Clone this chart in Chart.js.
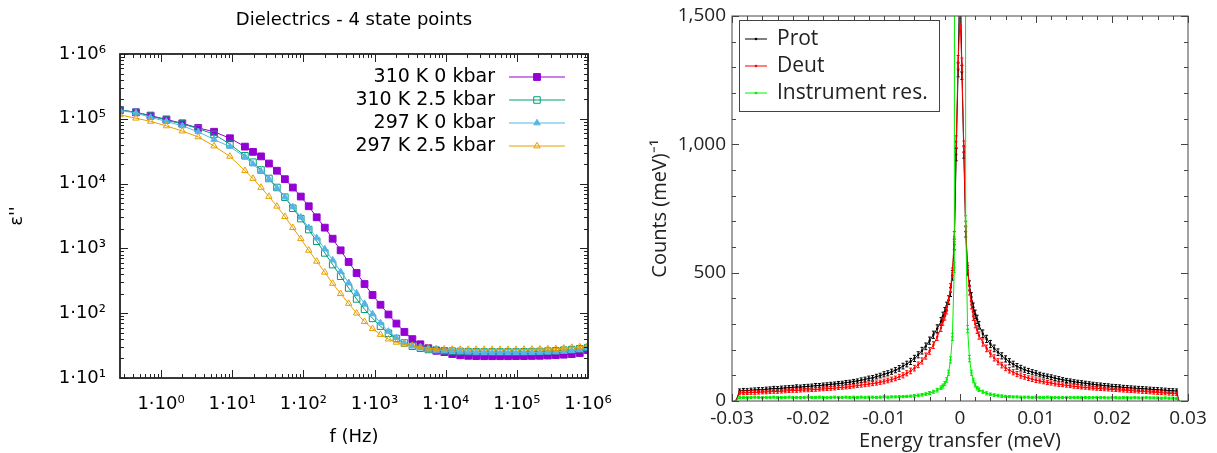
<!DOCTYPE html>
<html>
<head>
<meta charset="utf-8">
<script src="https://cdn.jsdelivr.net/npm/chart.js@4.4.0/dist/chart.umd.min.js"></script>
<style>
  html, body { margin: 0; padding: 0; background: #fff; }
  body { width: 1217px; height: 453px; position: relative; overflow: hidden; }
  .panel { position: absolute; top: 0; }
  #left { left: 0; }
  #right { left: 620px; }
</style>
</head>
<body>
<div class="panel" id="left"><canvas id="dielectric" width="615" height="453"></canvas></div>
<div class="panel" id="right"><canvas id="qens" width="597" height="453"></canvas></div>
<script>
// === Left panel: dielectric loss vs frequency ===
const freq = [0.265, 0.444, 0.713, 1.19, 1.99, 3.33, 5.56, 9.29,
  15.1, 19.6, 25.4, 32.8, 42.5, 55.0, 71.1, 92.0, 119, 154, 200, 258, 334, 433, 560, 724, 938,
  1213, 1570, 2032, 2630, 3404, 4406, 5702, 7379, 9550, 12360, 16000, 20700, 26800, 34700,
  44900, 58100, 75200, 97300, 125900, 162900, 210900, 272900, 353200, 457100, 591600, 765600, 990800];

const eps310_0 = [137000, 126000, 112000, 97700, 85100, 72400, 63100, 50100, 37200, 30900, 26300,
  20400, 15800, 11700, 8700, 6310, 4470, 3020, 2090, 1410, 933, 617, 417, 282, 191, 135, 95.5,
  69.2, 51.3, 39.8, 33.1, 28.8, 26.3, 25.1, 23.4, 22.4, 22.0, 21.8, 21.7, 21.7, 21.7, 21.7, 21.8,
  21.8, 21.9, 22.0, 22.2, 22.5, 22.9, 23.4, 24.3, 26.9];
const eps310_25 = [137000, 126000, 110000, 95500, 83200, 70800, 57500, 40700, 26900, 21400, 16200,
  12000, 8710, 6170, 4170, 2880, 1950, 1290, 851, 562, 372, 245, 166, 115, 83.2, 63.1, 49.0, 40.7,
  34.7, 30.9, 28.8, 27.5, 26.9, 26.3, 26.0, 25.7, 25.5, 25.4, 25.3, 25.3, 25.3, 25.3, 25.3, 25.4,
  25.5, 25.7, 26.0, 26.3, 26.9, 27.5, 28.2, 29.5];
const eps297_0 = [135000, 123000, 105000, 91200, 77600, 63100, 47900, 37200, 25700, 20000, 15500,
  11700, 8510, 6170, 4370, 3020, 2090, 1450, 977, 661, 437, 295, 204, 141, 97.7, 70.8, 52.5, 41.7,
  34.7, 30.9, 28.8, 27.5, 26.6, 26.0, 25.5, 25.2, 25.0, 24.8, 24.7, 24.6, 24.6, 24.6, 24.6, 24.6,
  24.7, 24.8, 25.0, 25.3, 25.8, 26.3, 27.2, 28.8];
const eps297_25 = [115000, 102000, 91200, 77600, 64600, 52500, 38000, 26300, 15800, 12000, 8710,
  6310, 4470, 3090, 2090, 1410, 933, 631, 427, 288, 200, 141, 100, 74.1, 57.5, 46.8, 39.8, 35.5,
  33.1, 31.6, 30.2, 28.8, 28.2, 27.8, 27.6, 27.5, 27.5, 27.5, 27.5, 27.5, 27.5, 27.5, 27.5, 27.6,
  27.7, 27.8, 28.0, 28.3, 28.8, 29.5, 30.2, 31.6];

const leftXTicks = [1, 10, 100, 1000, 10000, 100000, 1000000];
const leftXLabels = ['1·10⁰', '1·10¹', '1·10²', '1·10³', '1·10⁴', '1·10⁵', '1·10⁶'];
const leftYTicks = [10, 100, 1000, 10000, 100000, 1000000];
const leftYLabels = ['1·10¹', '1·10²', '1·10³', '1·10⁴', '1·10⁵', '1·10⁶'];

// === Right panel: quasi-elastic spectra ===
const energy = [-0.0295,
  -0.0290, -0.0285, -0.0280, -0.0275, -0.0270, -0.0265, -0.0260, -0.0255, -0.0250, -0.0245,
  -0.0240, -0.0235, -0.0230, -0.0225, -0.0220, -0.0215, -0.0210, -0.0205, -0.0200, -0.0195,
  -0.0190, -0.0185, -0.0180, -0.0175, -0.0170, -0.0165, -0.0160, -0.0155, -0.0150, -0.0145,
  -0.0140, -0.0135, -0.0130, -0.0125, -0.0120, -0.0115, -0.0110, -0.0105, -0.0100, -0.0095,
  -0.0090, -0.0085, -0.0080, -0.0075, -0.0070, -0.0065, -0.0060, -0.0055, -0.0050, -0.0045,
  -0.0040, -0.0035, -0.0030, -0.0025,
  -0.00225, -0.0020, -0.00175, -0.0015, -0.00125, -0.0010, -0.00075, -0.0005, -0.00025, 0,
  0.00025, 0.0005, 0.00075, 0.0010, 0.00125, 0.0015, 0.00175, 0.0020, 0.00225,
  0.0025, 0.0030, 0.0035, 0.0040, 0.0045, 0.0050, 0.0055, 0.0060, 0.0065, 0.0070,
  0.0075, 0.0080, 0.0085, 0.0090, 0.0095, 0.0100, 0.0105, 0.0110, 0.0115, 0.0120,
  0.0125, 0.0130, 0.0135, 0.0140, 0.0145, 0.0150, 0.0155, 0.0160, 0.0165, 0.0170,
  0.0175, 0.0180, 0.0185, 0.0190, 0.0195, 0.0200, 0.0205, 0.0210, 0.0215, 0.0220,
  0.0225, 0.0230, 0.0235, 0.0240, 0.0245, 0.0250, 0.0255, 0.0260, 0.0265, 0.0270,
  0.0275, 0.0280, 0.0285,
  0.0288];

const prot = [0,
  39, 41, 40, 42, 43, 44, 44, 46, 47, 49,
  48, 50, 51, 52, 53, 55, 54, 56, 57, 58,
  60, 60, 62, 63, 65, 66, 68, 69, 72, 73,
  76, 78, 81, 84, 88, 90, 95, 99, 104, 108,
  114, 120, 127, 136, 144, 154, 166, 180, 196, 213,
  235, 258, 282, 310,
  330, 348, 368, 393, 425, 490, 610, 960, 1290, 1720,
  1280, 970, 660, 510, 450, 405, 365, 338, 318,
  295, 262, 242, 222, 205, 190, 176, 164, 153, 144,
  135, 128, 122, 117, 112, 108, 103, 99, 96, 93,
  89, 86, 83, 80, 78, 75, 73, 71, 69, 67,
  65, 63, 62, 60, 59, 57, 56, 55, 53, 52,
  51, 50, 49, 48, 47, 46, 45, 44, 43, 42,
  41, 40, 39,
  0];
const protErr = [0,
  8, 8, 8, 8, 8, 8, 8, 8, 8, 8,
  8, 8, 8, 8, 8, 8, 8, 8, 8, 8,
  8, 8, 8, 8, 8, 8, 8, 8, 8, 8,
  8, 8, 9, 9, 9, 9, 9, 9, 10, 10,
  10, 10, 11, 11, 11, 12, 12, 12, 13, 13,
  14, 14, 15, 15,
  16, 16, 17, 17, 18, 19, 21, 24, 27, 30,
  27, 24, 21, 19, 18, 17, 17, 16, 16,
  15, 15, 14, 14, 13, 13, 12, 12, 12, 11,
  11, 11, 10, 10, 10, 10, 9, 9, 9, 9,
  9, 9, 8, 8, 8, 8, 8, 8, 8, 8,
  8, 8, 8, 8, 8, 8, 8, 8, 8, 8,
  8, 8, 8, 8, 8, 8, 8, 8, 8, 8,
  8, 8, 8,
  0];

const deut = [0,
  31, 32, 32, 33, 33, 34, 35, 35, 36, 37,
  37, 38, 39, 40, 41, 41, 42, 43, 43, 44,
  45, 46, 47, 48, 49, 50, 52, 53, 54, 56,
  58, 60, 62, 64, 66, 68, 70, 73, 76, 80,
  84, 88, 94, 100, 108, 117, 128, 141, 156, 175,
  195, 218, 250, 285,
  310, 330, 355, 395, 440, 500, 640, 1010, 1320, 1490,
  1310, 990, 680, 520, 430, 375, 330, 300, 278,
  255, 228, 205, 185, 168, 153, 140, 129, 120, 112,
  105, 99, 94, 89, 85, 81, 78, 75, 72, 70,
  67, 65, 63, 61, 59, 57, 56, 54, 53, 51,
  50, 49, 48, 47, 46, 45, 44, 43, 42, 41,
  40, 39, 38, 37, 36, 35, 34, 33, 32, 31,
  30, 29, 28,
  0];
const deutErr = [0,
  7, 7, 7, 7, 7, 7, 7, 7, 7, 7,
  7, 7, 7, 7, 7, 7, 7, 7, 7, 7,
  7, 7, 7, 7, 7, 7, 7, 7, 7, 7,
  7, 7, 8, 8, 8, 8, 8, 8, 9, 9,
  9, 9, 10, 10, 10, 11, 11, 11, 12, 12,
  13, 13, 14, 14,
  15, 15, 16, 16, 17, 18, 20, 23, 26, 28,
  26, 23, 20, 18, 17, 16, 16, 15, 15,
  14, 14, 13, 13, 12, 12, 11, 11, 11, 10,
  10, 10, 9, 9, 9, 9, 8, 8, 8, 8,
  8, 8, 7, 7, 7, 7, 7, 7, 7, 7,
  7, 7, 7, 7, 7, 7, 7, 7, 7, 7,
  7, 7, 7, 7, 7, 7, 7, 7, 7, 7,
  7, 7, 7,
  0];

const instr = [0,
  13, 14, 13, 14, 15, 14, 13, 14, 14, 15,
  14, 13, 14, 15, 14, 14, 13, 14, 15, 14,
  14, 15, 14, 13, 14, 15, 14, 14, 15, 14,
  15, 14, 15, 14, 15, 15, 14, 15, 16, 15,
  16, 16, 17, 17, 18, 19, 20, 22, 24, 27,
  31, 36, 42, 52,
  58, 68, 82, 110, 160, 250, 520, 12000, 20000, 22000,
  20000, 12000, 700, 280, 165, 110, 80, 62, 50,
  44, 36, 30, 26, 23, 21, 19, 18, 17, 16,
  16, 15, 15, 15, 14, 15, 14, 14, 15, 14,
  14, 13, 14, 14, 13, 14, 14, 13, 14, 13,
  13, 14, 13, 13, 12, 13, 13, 12, 13, 13,
  12, 13, 12, 12, 13, 12, 12, 12, 11, 12,
  11, 11, 10,
  0];
const instrErr = [0,
  4, 4, 4, 4, 4, 4, 4, 4, 4, 4,
  4, 4, 4, 4, 4, 4, 4, 4, 4, 4,
  4, 4, 4, 4, 4, 4, 4, 4, 4, 4,
  4, 4, 4, 4, 4, 4, 4, 4, 4, 4,
  4, 4, 4, 4, 4, 4, 5, 5, 5, 5,
  6, 6, 7, 7,
  8, 8, 9, 10, 12, 14, 20, 0, 0, 0,
  0, 0, 22, 14, 12, 10, 9, 8, 7,
  7, 6, 6, 5, 5, 5, 5, 4, 4, 4,
  4, 4, 4, 4, 4, 4, 4, 4, 4, 4,
  4, 4, 4, 4, 4, 4, 4, 4, 4, 4,
  4, 4, 4, 4, 4, 4, 4, 4, 4, 4,
  4, 4, 4, 4, 4, 4, 4, 4, 4, 4,
  4, 4, 4,
  0];

const rightXTicks = [-0.03, -0.02, -0.01, 0, 0.01, 0.02, 0.03];
const rightXLabels = ['-0.03', '-0.02', '-0.01', '0', '0.01', '0.02', '0.03'];
const rightYTicks = [0, 500, 1000, 1500];
const rightYLabels = ['0', '500', '1,000', '1,500'];

// minor tick positions (axis decoration only)
function logMinors(from, to) {
  const out = [];
  for (let d = from; d <= to; d *= 10) {
    for (let k = 2; k <= 9; k++) out.push(d * k);
  }
  return out;
}
function linMinors(from, to, step) {
  const out = [];
  const n = Math.round((to - from) / step);
  for (let i = 0; i <= n; i++) out.push(from + i * step);
  return out;
}

// --- plugin: box frame with inward ticks on all four sides ---
const frameTicks = {
  id: 'frameTicks',
  afterDatasetsDraw(chart, args, o) {
    const { ctx, chartArea: a, scales } = chart;
    ctx.save();
    ctx.strokeStyle = o.color;
    ctx.lineWidth = o.tickWidth;
    ctx.beginPath();
    const tick = (axis, v, len) => {
      const sc = scales[axis];
      if (v < sc.min - 1e-12 || v > sc.max + 1e-12) return;
      const p = Math.round(sc.getPixelForValue(v)) + 0.5;
      if (axis === 'x') {
        ctx.moveTo(p, a.bottom); ctx.lineTo(p, a.bottom - len);
        ctx.moveTo(p, a.top); ctx.lineTo(p, a.top + len);
      } else {
        ctx.moveTo(a.left, p); ctx.lineTo(a.left + len, p);
        ctx.moveTo(a.right, p); ctx.lineTo(a.right - len, p);
      }
    };
    o.xMinor.forEach(v => tick('x', v, o.minorLen));
    o.yMinor.forEach(v => tick('y', v, o.minorLen));
    o.xMajor.forEach(v => tick('x', v, o.majorLen));
    o.yMajor.forEach(v => tick('y', v, o.majorLen));
    ctx.stroke();
    ctx.lineWidth = o.frameWidth;
    ctx.strokeRect(a.left, a.top, a.width, a.height);
    ctx.restore();
  }
};

// --- plugin: vertical error bars with small caps ---
const errorBars = {
  id: 'errorBars',
  afterDatasetDraw(chart, args) {
    const ds = chart.data.datasets[args.index];
    if (!ds.errors) return;
    const { ctx, chartArea: a, scales: { y } } = chart;
    ctx.save();
    ctx.beginPath();
    ctx.rect(a.left, a.top, a.width, a.height);
    ctx.clip();
    ctx.strokeStyle = ds.borderColor;
    ctx.lineWidth = 1;
    ctx.beginPath();
    args.meta.data.forEach((pt, i) => {
      const e = ds.errors[i];
      if (!e) return;
      const v = ds.data[i].y;
      const y1 = y.getPixelForValue(v - e);
      const y2 = y.getPixelForValue(v + e);
      ctx.moveTo(pt.x, y1); ctx.lineTo(pt.x, y2);
      ctx.moveTo(pt.x - 1.5, y1); ctx.lineTo(pt.x + 1.5, y1);
      ctx.moveTo(pt.x - 1.5, y2); ctx.lineTo(pt.x + 1.5, y2);
    });
    ctx.stroke();
    ctx.restore();
  }
};

// --- plugin: gnuplot-like key (text right, sample line + marker) ---
const keyLeft = {
  id: 'keyLeft',
  afterDraw(chart, args, o) {
    const { ctx, chartArea: a } = chart;
    ctx.save();
    ctx.font = o.font;
    ctx.textAlign = 'right';
    ctx.textBaseline = 'middle';
    chart.data.datasets.forEach((ds, i) => {
      const y = a.top + o.firstRow + i * o.rowGap;
      ctx.fillStyle = o.color;
      ctx.fillText(ds.label, a.right - o.textRight, y);
      ctx.strokeStyle = ds.borderColor;
      ctx.lineWidth = 1;
      ctx.beginPath();
      ctx.moveTo(a.right - o.lineFrom, y);
      ctx.lineTo(a.right - o.lineTo, y);
      ctx.stroke();
      ctx.fillStyle = ds.pointBackgroundColor;
      Chart.helpers.drawPoint(ctx, {
        pointStyle: ds.pointStyle, radius: ds.pointRadius,
        borderWidth: ds.pointBorderWidth, rotation: 0
      }, a.right - (o.lineFrom + o.lineTo) / 2, y);
    });
    ctx.restore();
  }
};

const keyRight = {
  id: 'keyRight',
  afterDraw(chart, args, o) {
    const { ctx, chartArea: a } = chart;
    const bx = a.left + o.left, by = a.top + o.top;
    ctx.save();
    ctx.fillStyle = '#fff';
    ctx.fillRect(bx, by, o.width, o.height);
    ctx.strokeStyle = o.boxColor;
    ctx.lineWidth = 1;
    ctx.strokeRect(bx + 0.5, by + 0.5, o.width, o.height);
    ctx.font = o.font;
    ctx.textAlign = 'left';
    ctx.textBaseline = 'middle';
    chart.data.datasets.forEach((ds, i) => {
      const y = by + o.firstRow + i * o.rowGap;
      ctx.strokeStyle = ds.borderColor;
      ctx.beginPath();
      ctx.moveTo(bx + o.lineFrom, y);
      ctx.lineTo(bx + o.lineTo, y);
      ctx.stroke();
      ctx.fillStyle = ds.borderColor;
      ctx.beginPath();
      ctx.arc(bx + (o.lineFrom + o.lineTo) / 2, y, 1.3, 0, Math.PI * 2);
      ctx.fill();
      ctx.fillStyle = o.color;
      ctx.fillText(ds.label, bx + o.textX, y);
    });
    ctx.restore();
  }
};

// x scales: keep the plot box where the layout padding puts it
function fixX(height) {
  return s => { s.height = height; s.paddingLeft = 0; s.paddingRight = 0; };
}

// === Left chart ===
function dielSet(label, values, color, style, radius, filled, order) {
  return {
    label,
    data: freq.map((f, i) => ({ x: f, y: values[i] })),
    showLine: true,
    borderColor: color,
    borderWidth: 1,
    pointStyle: style,
    pointRadius: radius,
    pointBorderWidth: 1,
    pointBorderColor: color,
    pointBackgroundColor: filled ? color : 'rgba(0,0,0,0)',
    backgroundColor: filled ? color : 'rgba(0,0,0,0)',
    order
  };
}

const dejavu = 'DejaVu Sans';
new Chart(document.getElementById('dielectric'), {
  type: 'scatter',
  data: {
    datasets: [
      dielSet('310 K 0 kbar', eps310_0, '#9400d3', 'rect', 4.8, true, 4),
      dielSet('310 K 2.5 kbar', eps310_25, '#009e73', 'rect', 4.6, false, 3),
      dielSet('297 K 0 kbar', eps297_0, '#56b4e9', 'triangle', 3.7, true, 2),
      dielSet('297 K 2.5 kbar', eps297_25, '#e69f00', 'triangle', 3.7, false, 1)
    ]
  },
  options: {
    responsive: false,
    animation: false,
    devicePixelRatio: 1,
    layout: { padding: { left: 0, right: 27, top: 0, bottom: 0 } },
    plugins: {
      legend: { display: false },
      tooltip: { enabled: false },
      title: {
        display: true,
        fullSize: false,
        text: 'Dielectrics - 4 state points',
        color: '#000',
        font: { family: dejavu, size: 18, weight: 'normal' },
        padding: { top: 10, bottom: 22.4 }
      },
      frameTicks: {
        color: '#222', tickWidth: 1, frameWidth: 1.8, majorLen: 8, minorLen: 4,
        xMajor: leftXTicks, yMajor: leftYTicks,
        xMinor: logMinors(0.1, 100000), yMinor: logMinors(10, 100000)
      },
      keyLeft: {
        font: '19px "DejaVu Sans"', color: '#000',
        firstRow: 23, rowGap: 23, textRight: 93, lineFrom: 79, lineTo: 23
      }
    },
    scales: {
      x: {
        type: 'logarithmic',
        min: 0.265,
        max: 1000000,
        grid: { display: false },
        border: { display: false },
        afterBuildTicks: s => { s.ticks = leftXTicks.map(v => ({ value: v })); },
        afterFit: fixX(75),
        ticks: {
          autoSkip: false, maxRotation: 0, padding: 8, color: '#000',
          font: { family: dejavu, size: 18 },
          callback: (v, i) => leftXLabels[i]
        },
        title: {
          display: true, text: 'f (Hz)', color: '#000',
          font: { family: dejavu, size: 18 }, padding: { top: 0, bottom: 5 }
        }
      },
      y: {
        type: 'logarithmic',
        min: 10,
        max: 1000000,
        grid: { display: false },
        border: { display: false },
        afterBuildTicks: s => { s.ticks = leftYTicks.map(v => ({ value: v })); },
        afterFit: s => { s.width = 120; },
        ticks: {
          autoSkip: false, padding: 6, color: '#000',
          font: { family: dejavu, size: 18 },
          callback: (v, i) => leftYLabels[i]
        },
        title: {
          display: true, text: "ε''", color: '#000',
          font: { family: dejavu, size: 18 }, padding: { top: 7, bottom: 0 }
        }
      }
    }
  },
  plugins: [frameTicks, keyLeft]
});

// === Right chart ===
function qensSet(label, values, errs, color, order) {
  return {
    label,
    data: energy.map((e, i) => ({ x: e, y: values[i] })),
    errors: errs,
    showLine: true,
    borderColor: color,
    backgroundColor: color,
    borderWidth: 1,
    pointRadius: 1.2,
    pointBorderWidth: 0,
    pointBackgroundColor: color,
    order
  };
}

const openSans = 'Open Sans';
new Chart(document.getElementById('qens'), {
  type: 'scatter',
  data: {
    datasets: [
      qensSet('Prot', prot, protErr, '#000000', 3),
      qensSet('Deut', deut, deutErr, '#ff0000', 2),
      qensSet('Instrument res.', instr, instrErr, '#00ee00', 1)
    ]
  },
  options: {
    responsive: false,
    animation: false,
    devicePixelRatio: 1,
    layout: { padding: { left: 0, right: 29, top: 16, bottom: 0 } },
    plugins: {
      legend: { display: false },
      tooltip: { enabled: false },
      frameTicks: {
        color: '#444', tickWidth: 1, frameWidth: 1, majorLen: 7, minorLen: 4,
        xMajor: rightXTicks, yMajor: rightYTicks,
        xMinor: linMinors(-0.03, 0.03, 0.002), yMinor: linMinors(0, 1500, 100)
      },
      keyRight: {
        left: 7, top: 4, width: 200, height: 91, boxColor: '#444',
        font: '21px "Open Sans"', color: '#222',
        firstRow: 19, rowGap: 27, lineFrom: 6, lineTo: 28, textX: 38
      }
    },
    scales: {
      x: {
        type: 'linear',
        min: -0.03,
        max: 0.03,
        grid: { display: false },
        border: { display: false },
        afterBuildTicks: s => { s.ticks = rightXTicks.map(v => ({ value: v })); },
        afterFit: fixX(52),
        ticks: {
          autoSkip: false, maxRotation: 0, padding: -2, color: '#222',
          font: { family: openSans, size: 19 },
          callback: (v, i) => rightXLabels[i]
        },
        title: {
          display: true, text: 'Energy transfer (meV)', color: '#222',
          font: { family: openSans, size: 20 }, padding: { top: 0, bottom: 0 }
        }
      },
      y: {
        type: 'linear',
        min: 0,
        max: 1500,
        grid: { display: false },
        border: { display: false },
        afterBuildTicks: s => { s.ticks = rightYTicks.map(v => ({ value: v })); },
        afterFit: s => { s.width = 112; },
        ticks: {
          autoSkip: false, padding: -2, color: '#222',
          font: { family: openSans, size: 19 },
          callback: (v, i) => rightYLabels[i]
        },
        title: {
          display: true, text: 'Counts (meV)⁻¹', color: '#222',
          font: { family: openSans, size: 20 }, padding: { top: 28, bottom: 0 }
        }
      }
    }
  },
  plugins: [frameTicks, errorBars, keyRight]
});
</script>
</body>
</html>
